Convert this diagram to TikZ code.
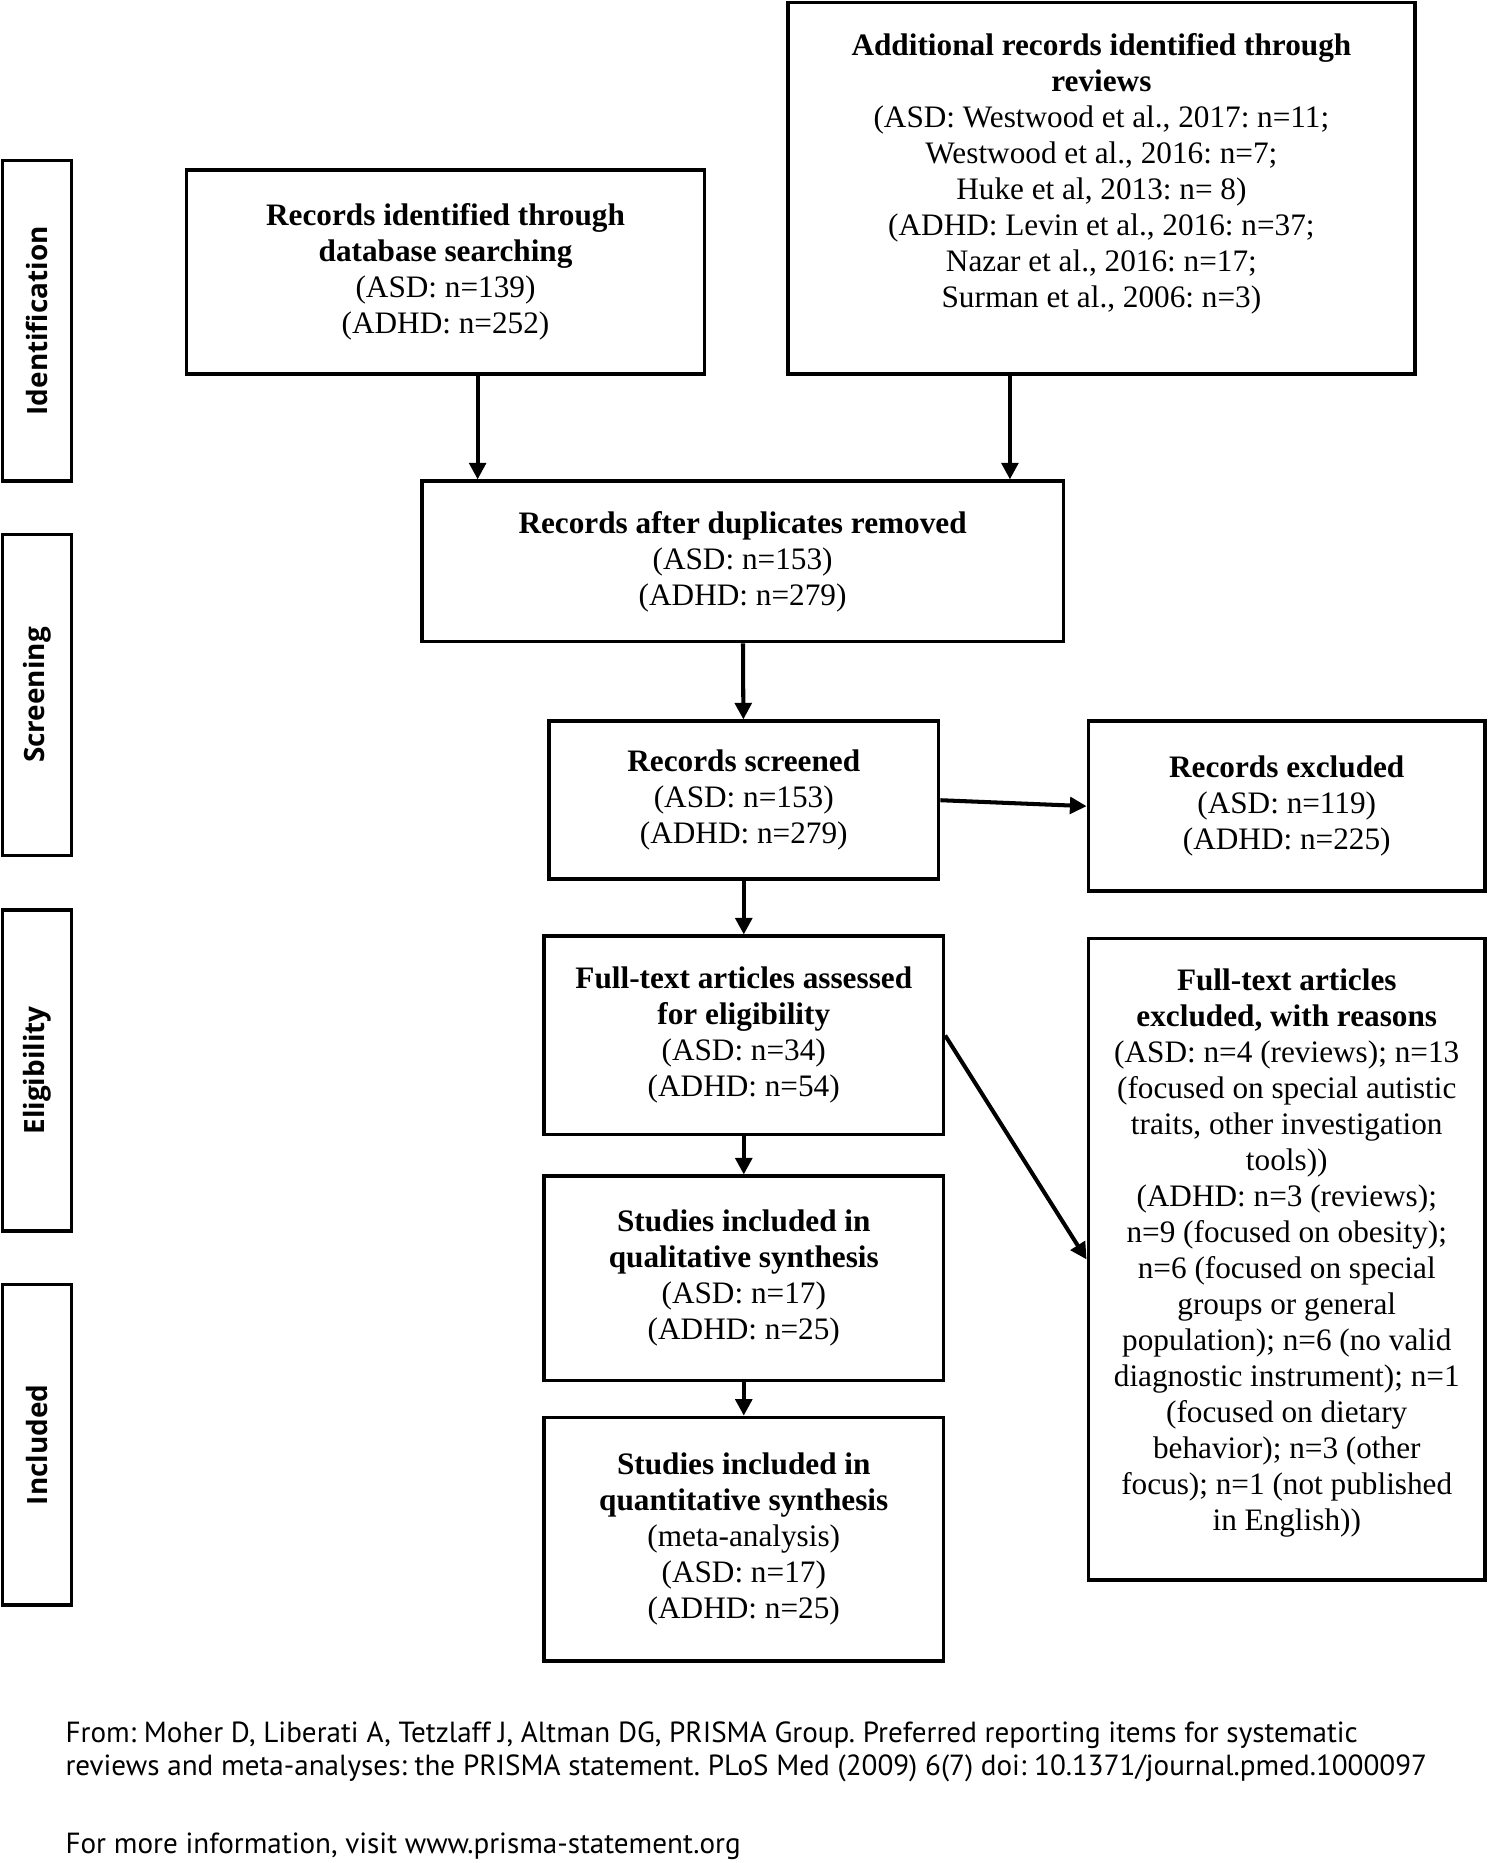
\documentclass[tikz,border=0pt]{standalone}
\usepackage{fontspec}
\setmainfont{Liberation Serif}
\newfontfamily\stagefont{Open Sans}
\newfontfamily\footfont{PT Sans}
\usetikzlibrary{arrows.meta}
\frenchspacing
\begin{document}
\begin{tikzpicture}[x=1pt,y=-1pt,
  box/.style={draw, line width=3pt, align=center, inner sep=0pt,
    font=\frenchspacing\fontsize{26.3}{30.3}\selectfont},
  stage/.style={draw, line width=3pt, inner sep=0pt, rotate=90,
    minimum width=270pt, minimum height=58pt,
    font=\stagefont\bfseries\fontsize{23.5}{28}\selectfont},
  arr/.style={line width=3.4pt, -{Triangle[length=14pt,width=14pt]}},
  foot/.style={align=left, inner sep=0pt, anchor=north west,
    font=\footfont\fontsize{24.5}{28}\selectfont}]
\useasboundingbox (0,0) rectangle (1253,1568);

% stage labels
\node[stage] (s1) at (31,270) {Identification};
\node[stage] (s2) at (31,585) {Screening};
\node[stage] (s3) at (31,901) {Eligibility};
\node[stage] (s4) at (31,1216) {Included};

% boxes
\node[box, minimum width=436pt, minimum height=172pt] (b1) at (375,229)
  {\textbf{Records identified through}\\ \textbf{database searching}\\ (ASD: n=139)\\ (ADHD: n=252)};
\node[box, minimum width=528pt, minimum height=313pt] (b2) at (927,158.5)
  {\textbf{Additional records identified through}\\ \textbf{reviews}\\
   (ASD: Westwood et al., 2017: n=11;\\ Westwood et al., 2016: n=7;\\
   Huke et al, 2013: n= 8)\\ (ADHD: Levin et al., 2016: n=37;\\
   Nazar et al., 2016: n=17;\\ Surman et al., 2006: n=3)\\ \mbox{}};
\node[box, minimum width=540pt, minimum height=135pt] (b3) at (625,472.5)
  {\textbf{Records after duplicates removed}\\ (ASD: n=153)\\ (ADHD: n=279)};
\node[box, minimum width=328pt, minimum height=133pt] (b4) at (626,673.5)
  {\textbf{Records screened}\\ (ASD: n=153)\\ (ADHD: n=279)};
\node[box, minimum width=334pt, minimum height=143pt] (b5) at (1083,678.5)
  {\textbf{Records excluded}\\ (ASD: n=119)\\ (ADHD: n=225)};
\node[box, minimum width=336pt, minimum height=167pt] (b6) at (626,871.5)
  {\textbf{Full-text articles assessed}\\ \textbf{for eligibility}\\ (ASD: n=34)\\ (ADHD: n=54)};
\node[box, minimum width=334pt, minimum height=540pt] (b7) at (1083,1060)
  {\textbf{Full-text articles}\\ \textbf{excluded, with reasons}\\
   (ASD: n=4 (reviews); n=13\\ (focused on special autistic\\
   traits, other investigation\\ tools))\\ (ADHD: n=3 (reviews);\\
   n=9 (focused on obesity);\\ n=6 (focused on special\\ groups or general\\
   population); n=6 (no valid\\ diagnostic instrument); n=1\\
   (focused on dietary\\ behavior); n=3 (other\\ focus); n=1 (not published\\
   in English))\\[-14pt]\mbox{}};
\node[box, minimum width=336pt, minimum height=172pt] (b8) at (626,1076)
  {\textbf{Studies included in}\\ \textbf{qualitative synthesis}\\ (ASD: n=17)\\ (ADHD: n=25)};
\node[box, minimum width=336pt, minimum height=205pt] (b9) at (626,1295.5)
  {\textbf{Studies included in}\\ \textbf{quantitative synthesis}\\ (meta-analysis)\\ (ASD: n=17)\\ (ADHD: n=25)};

% connectors
\coordinate (c1) at (402,0);
\coordinate (c2) at (850,0);
\draw[arr] (b1.south -| c1) -- (b3.north -| c1);
\draw[arr] (b2.south -| c2) -- (b3.north -| c2);
\draw[arr] (b3) -- (b4);
\draw[arr] (b4.east) -- (b5.west);
\draw[arr] (b4) -- (b6);
\draw[arr] (b6.east) -- (b7.west);
\draw[arr] (b6) -- (b8);
\draw[arr] (b8) -- (b9);

% footer
\node[foot] (ft) at (55,1449)
  {From: Moher D, Liberati A, Tetzlaff J, Altman DG, PRISMA Group. Preferred reporting items for systematic\\
   reviews and meta-analyses: the PRISMA statement. PLoS Med (2009) 6(7) doi: 10.1371/journal.pmed.1000097\\[37pt]
   For more information, visit www.prisma-statement.org};
\end{tikzpicture}
\end{document}
